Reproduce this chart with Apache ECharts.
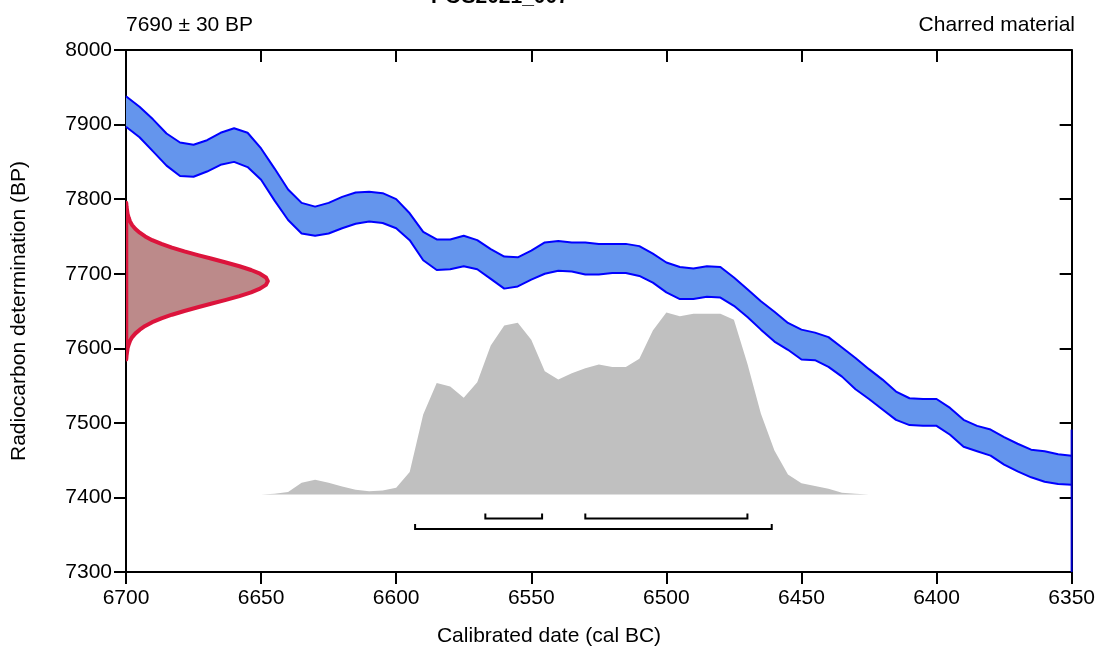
<!DOCTYPE html>
<html>
<head>
<meta charset="utf-8">
<script src="https://cdn.jsdelivr.net/npm/echarts@6/dist/echarts.min.js"></script>
<style>
  html, body { margin: 0; padding: 0; background: #fff; }
  #main { width: 1098px; height: 648px; }
</style>
</head>
<body>
<div id="main"></div>
<script>
// calibration curve, 5-year steps (cal BC), upper / lower edge in BP
var calYears = [6700, 6695, 6690, 6685, 6680, 6675, 6670, 6665, 6660, 6655,
  6650, 6645, 6640, 6635, 6630, 6625, 6620, 6615, 6610, 6605,
  6600, 6595, 6590, 6585, 6580, 6575, 6570, 6565, 6560, 6555,
  6550, 6545, 6540, 6535, 6530, 6525, 6520, 6515, 6510, 6505,
  6500, 6495, 6490, 6485, 6480, 6475, 6470, 6465, 6460, 6455,
  6450, 6445, 6440, 6435, 6430, 6425, 6420, 6415, 6410, 6405,
  6400, 6395, 6390, 6385, 6380, 6375, 6370, 6365, 6360, 6355, 6350];
var calUpper = [7938, 7924, 7907, 7888, 7876, 7873, 7879, 7889, 7895, 7889,
  7868, 7841, 7813, 7795, 7790, 7795, 7803, 7809, 7810, 7808,
  7800, 7781, 7756, 7746, 7746, 7751, 7745, 7733, 7723, 7722,
  7731, 7742, 7744, 7742, 7742, 7740, 7740, 7740, 7737, 7727,
  7715, 7709, 7707, 7710, 7709, 7695, 7679, 7663, 7649, 7634,
  7625, 7621, 7615, 7601, 7587, 7572, 7558, 7542, 7533, 7532,
  7532, 7520, 7504, 7496, 7491, 7481, 7472, 7464, 7462, 7458, 7456];
var calLower = [7897, 7883, 7864, 7845, 7831, 7830, 7837, 7846, 7850, 7843,
  7826, 7798, 7772, 7754, 7751, 7754, 7761, 7767, 7770, 7768,
  7761, 7745, 7718, 7705, 7706, 7710, 7706, 7693, 7680, 7683,
  7692, 7700, 7704, 7703, 7699, 7699, 7701, 7701, 7697, 7688,
  7675, 7666, 7666, 7669, 7668, 7657, 7642, 7625, 7609, 7598,
  7585, 7584, 7575, 7562, 7545, 7532, 7518, 7504, 7497, 7496,
  7496, 7484, 7468, 7462, 7456, 7444, 7435, 7427, 7421, 7418, 7417];

// measurement 7690 ± 30 BP, width of the red curve in years from the axis
var measBP = [7795, 7790, 7785, 7780, 7775, 7770, 7765, 7760, 7755, 7750,
  7745, 7740, 7735, 7730, 7725, 7720, 7715, 7710, 7705, 7700,
  7695, 7690, 7685, 7680, 7675, 7670, 7665, 7660, 7655, 7650,
  7645, 7640, 7635, 7630, 7625, 7620, 7615, 7610, 7605, 7600,
  7595, 7590, 7585];
var measWidth = [0.1, 0.2, 0.4, 0.6, 1.0, 1.5, 2.3, 3.5, 5.1, 7.1,
  9.7, 13.1, 17.0, 21.6, 26.6, 31.8, 37.0, 42.0, 46.3, 49.6,
  51.8, 52.5, 51.8, 49.6, 46.3, 42.0, 37.0, 31.8, 26.6, 21.6,
  17.0, 13.1, 9.7, 7.1, 5.1, 3.5, 2.3, 1.5, 1.0, 0.6,
  0.4, 0.2, 0.1];

// calibrated probability (relative)
var probYears = [6650, 6645, 6640, 6635, 6630, 6625, 6620, 6615, 6610, 6605,
  6600, 6595, 6590, 6585, 6580, 6575, 6570, 6565, 6560, 6555,
  6550, 6545, 6540, 6535, 6530, 6525, 6520, 6515, 6510, 6505,
  6500, 6495, 6490, 6485, 6480, 6475, 6470, 6465, 6460, 6455,
  6450, 6445, 6440, 6435, 6430, 6425, 6420];
var probValues = [0, 0.004, 0.013, 0.064, 0.081, 0.064, 0.044, 0.026, 0.018, 0.022,
  0.037, 0.123, 0.44, 0.612, 0.593, 0.531, 0.617, 0.819, 0.929, 0.943,
  0.85, 0.677, 0.632, 0.666, 0.694, 0.714, 0.70, 0.70, 0.746, 0.901,
  1.0, 0.98, 0.993, 0.993, 0.993, 0.96, 0.718, 0.443, 0.242, 0.11,
  0.062, 0.046, 0.031, 0.009, 0.004, 0, 0];
var probBase = 7404;   // BP level of the distribution baseline
var probHeight = 244;  // BP height of the maximum

// ranges: [from, to, row]  row 0 = 68.3%, row 1 = 95.4%
var ranges = [[6567, 6546, 0], [6530, 6470, 0], [6593, 6461, 1]];

var FONT = '"Liberation Sans", Arial, sans-serif';
var FS = 21;

var chart = echarts.init(document.getElementById('main'));

function edge(arr) {
  return calYears.map(function (y, i) { return [y, arr[i]]; });
}
function plain(v) { return String(v); }

var option = {
  animation: false,
  grid: { left: 126, right: 24, top: 50, bottom: 76 },
  xAxis: [{
    type: 'value', min: 6350, max: 6700, interval: 50, inverse: true,
    axisLine: { lineStyle: { color: '#000', width: 2 } },
    axisTick: { length: 12, lineStyle: { color: '#000', width: 2 } },
    axisLabel: { fontFamily: FONT, fontSize: FS, color: '#000', margin: 16, formatter: plain },
    splitLine: { show: false }
  }, {
    type: 'value', position: 'top', min: 6350, max: 6700, interval: 50, inverse: true,
    axisLine: { lineStyle: { color: '#000', width: 2 } },
    axisTick: { inside: true, length: 12, lineStyle: { color: '#000', width: 2 } },
    axisLabel: { show: false },
    splitLine: { show: false }
  }],
  yAxis: [{
    type: 'value', min: 7300, max: 8000, interval: 100,
    name: 'Radiocarbon determination (BP)', nameLocation: 'middle', nameGap: 96,
    nameTextStyle: { fontFamily: FONT, fontSize: FS, color: '#000' },
    axisLine: { show: true, lineStyle: { color: '#000', width: 2 } },
    axisTick: { show: true, length: 12, lineStyle: { color: '#000', width: 2 } },
    axisLabel: { fontFamily: FONT, fontSize: FS, color: '#000', margin: 14, formatter: plain },
    splitLine: { show: false }
  }, {
    type: 'value', position: 'right', min: 7300, max: 8000, interval: 100,
    axisLine: { show: true, lineStyle: { color: '#000', width: 2 } },
    axisTick: { show: true, inside: true, length: 12, lineStyle: { color: '#000', width: 2 } },
    axisLabel: { show: false },
    splitLine: { show: false }
  }],
  graphic: [
    { type: 'text', x: 500, y: -3, style: { text: 'POS2021_007', font: 'bold 21px ' + FONT, fill: '#000', align: 'center', verticalAlign: 'middle' } },
    { type: 'text', x: 126, y: 25, style: { text: '7690 \u00b1 30 BP', font: FS + 'px ' + FONT, fill: '#000', verticalAlign: 'middle' } },
    { type: 'text', x: 1075, y: 25, style: { text: 'Charred material', font: FS + 'px ' + FONT, fill: '#000', align: 'right', verticalAlign: 'middle' } },
    { type: 'text', x: 549, y: 636, style: { text: 'Calibrated date (cal BC)', font: FS + 'px ' + FONT, fill: '#000', align: 'center', verticalAlign: 'middle' } }
  ],
  series: [
    {
      // calibrated distribution
      type: 'custom', clip: true, z: 1,
      data: probYears.map(function (y, i) { return [y, probBase + probValues[i] * probHeight]; }),
      renderItem: function (params, api) {
        if (params.dataIndex !== 0) return null;
        var pts = [api.coord([probYears[0], probBase])];
        for (var i = 0; i < probYears.length; i++) {
          pts.push(api.coord([probYears[i], probBase + probValues[i] * probHeight]));
        }
        pts.push(api.coord([probYears[probYears.length - 1], probBase]));
        return { type: 'polygon', shape: { points: pts }, style: { fill: '#c0c0c0' } };
      }
    },
    {
      // ranges
      type: 'custom', clip: false, z: 3,
      data: ranges,
      renderItem: function (params, api) {
        var base = api.coord([api.value(0), probBase])[1];
        var y = base + (api.value(2) === 0 ? 24 : 34.5);
        var a = api.coord([api.value(0), probBase])[0];
        var b = api.coord([api.value(1), probBase])[0];
        return {
          type: 'polyline',
          shape: { points: [[a, y - 5], [a, y], [b, y], [b, y - 5]] },
          style: { stroke: '#000', lineWidth: 2, fill: null }
        };
      }
    },
    {
      // calibration band
      type: 'custom', clip: true, z: 2,
      data: calYears.map(function (y, i) { return [y, calUpper[i], calLower[i]]; }),
      encode: { x: 0, y: [1, 2] },
      renderItem: function (params, api) {
        if (params.dataIndex !== 0) return null;
        var pts = [];
        for (var i = 0; i < calYears.length; i++) pts.push(api.coord([calYears[i], calUpper[i]]));
        for (var j = calYears.length - 1; j >= 0; j--) pts.push(api.coord([calYears[j], calLower[j]]));
        return { type: 'polygon', shape: { points: pts }, style: { fill: '#6495ed' } };
      }
    },
    {
      type: 'line', data: edge(calUpper), symbol: 'none', z: 3,
      lineStyle: { color: '#0000ff', width: 2 }
    },
    {
      type: 'line', data: edge(calLower), symbol: 'none', z: 3,
      lineStyle: { color: '#0000ff', width: 2 }
    },
    {
      type: 'line', data: [[6350, 7300], [6350, 7491]], symbol: 'none', z: 3, clip: false,
      lineStyle: { color: '#0000cd', width: 2 }
    },
    {
      // measurement
      type: 'custom', clip: true, z: 4,
      data: measBP.map(function (bp, i) { return [6700 - measWidth[i], bp]; }),
      renderItem: function (params, api) {
        if (params.dataIndex !== 0) return null;
        var pts = [];
        for (var i = 0; i < measBP.length; i++) pts.push(api.coord([6700 - measWidth[i], measBP[i]]));
        return {
          type: 'polygon', shape: { points: pts },
          style: { fill: '#bc8a8a', stroke: '#dc143c', lineWidth: 4, lineJoin: 'round' }
        };
      }
    }
  ]
};

chart.setOption(option);
</script>
</body>
</html>
